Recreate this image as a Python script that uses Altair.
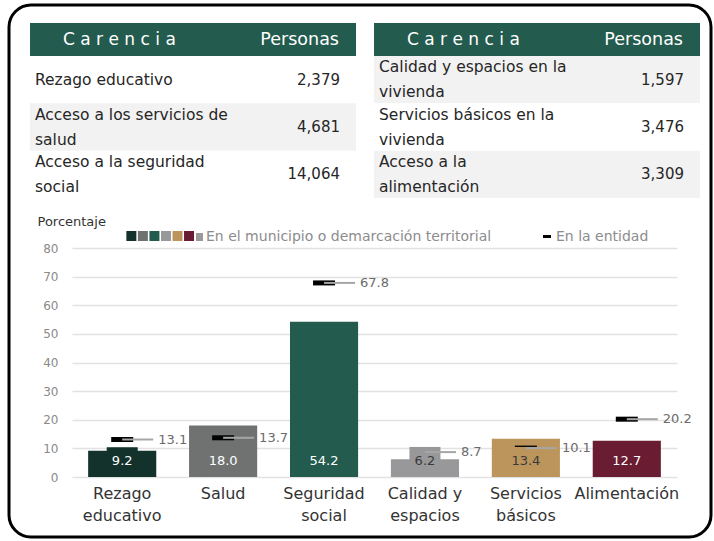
import altair as alt
import pandas as pd

# ---------------- data ----------------
categories = ["Rezago\neducativo", "Salud", "Seguridad\nsocial",
              "Calidad y\nespacios", "Servicios\nbásicos", "Alimentación"]
municipio = [9.2, 18.0, 54.2, 6.2, 13.4, 12.7]
entidad = [13.1, 13.7, 67.8, 8.7, 10.1, 20.2]
secundaria = [10.4, 10.5, 10.5, 10.5, 10.5, 10.5]
bar_colors = ["#13322B", "#6F7271", "#235B4E", "#98989A", "#BC955C", "#691C32"]

left_items = ["Rezago educativo", "Acceso a los servicios de\nsalud",
              "Acceso a la seguridad\nsocial"]
left_people = [2379, 4681, 14064]
right_items = ["Calidad y espacios en la\nvivienda", "Servicios básicos en la\nvivienda",
               "Acceso a la\nalimentación"]
right_people = [1597, 3476, 3309]
header_left = ["C a r e n c i a", "C a r e n c i a"]
header_right = ["Personas", "Personas"]

legend_mun = "En el municipio o demarcación territorial"
legend_ent = "En la entidad"
y_title = "Porcentaje"
y_ticks = [0, 10, 20, 30, 40, 50, 60, 70, 80]

FONT = "DejaVu Sans"

# ---------------- bar chart ----------------
df = pd.DataFrame({"cat": categories, "mun": municipio, "ent": entidad, "sec": secundaria})

xenc = alt.X("cat:N", sort=categories,
             scale=alt.Scale(paddingInner=0.325, paddingOuter=0.16),
             axis=alt.Axis(title=None, labelExpr="split(datum.label, '\\n')",
                           labelAngle=0, labelFontSize=16, labelColor="#333333",
                           labelLineHeight=22, labelPadding=8, labelBaseline="top",
                           domain=False, ticks=False, grid=False))
cenc = alt.Color("cat:N", sort=categories,
                 scale=alt.Scale(domain=categories, range=bar_colors), legend=None)

yscale = alt.Scale(domain=[0, 80], nice=False)
yaxis = alt.Axis(values=y_ticks, title=y_title, titleAngle=0,
                 titleX=-35, titleY=-27, titleAlign="left",
                 titleBaseline="middle", titleFontSize=13,
                 titleFontWeight="normal", titleColor="#333333",
                 labelFontSize=12, labelColor="#8A8A8A", labelPadding=14,
                 labelOverlap=False, domain=False, ticks=False,
                 gridColor="#E2E2E2", gridWidth=1.5)


def yenc(field):
    return alt.Y(field, type="quantitative", scale=yscale, axis=yaxis)


base = alt.Chart(df).encode(x=xenc)

main_bars = base.mark_bar().encode(y=yenc("mun"), color=cenc)
markers = base.mark_tick(color="black", size=22, thickness=5, opacity=1).encode(y=yenc("ent"))
narrow = base.mark_bar(width=31).encode(y=yenc("sec"), color=cenc)
leaders = base.mark_tick(color="#A6A6A6", size=31, thickness=2, opacity=1,
                         xOffset=15.5).encode(y=yenc("ent"))
value_labels = base.mark_text(fontSize=13, baseline="middle", dy=-16).encode(
    y=alt.YDatum(0, type="quantitative", scale=yscale, axis=yaxis),
    text=alt.Text("mun:Q", format=".1f"),
    color=alt.condition("test(/^(Calidad|Servicios)/, datum.cat)",
                        alt.value("#3A3A3A"), alt.value("#FFFFFF")),
)
ent_labels = base.mark_text(fontSize=13, baseline="middle", align="left", dx=36,
                            color="#6B6B6B").encode(
    y=yenc("ent"), text=alt.Text("ent:Q", format=".1f"))

bars_group = alt.layer(main_bars, markers, narrow, leaders, value_labels, ent_labels)

# ---------------- tables ----------------
tdf = pd.DataFrame({
    "table": [0, 0, 0, 1, 1, 1],
    "row": [0, 1, 2, 0, 1, 2],
    "item": left_items + right_items,
    "people": left_people + right_people,
})
hdf = pd.DataFrame({"table": [0, 1], "h1": header_left, "h2": header_right})


def tx(bp=None):
    kw = {} if bp is None else {"bandPosition": bp}
    return alt.X("table:O", scale=alt.Scale(range=[-42, 628], paddingInner=18 / 344,
                                            paddingOuter=0), axis=None, **kw)


ty = alt.Y("row:O", scale=alt.Scale(range=[-192, -50], paddingInner=0, paddingOuter=0),
           axis=None)

row_bg = alt.Chart(tdf).mark_rect().encode(
    x=tx(), y=ty,
    fill=alt.condition("(datum.table == 0) == (datum.row % 2 == 1)",
                       alt.value("#F2F2F2"), alt.value("#FFFFFF")),
)
head_bg = alt.Chart(hdf).mark_rect(color="#235B4E").encode(
    x=tx(), y=alt.value(-225), y2=alt.value(-192))
head_t1 = alt.Chart(hdf).mark_text(color="white", fontSize=17, align="left",
                                   baseline="middle", dx=33).encode(
    x=tx(0), y=alt.value(-208), text="h1:N")
head_t2 = alt.Chart(hdf).mark_text(color="white", fontSize=17.5, align="right",
                                   baseline="middle", dx=-17).encode(
    x=tx(1), y=alt.value(-208), text="h2:N")
item_one = alt.Chart(tdf).transform_filter(
    "indexof(datum.item, '\\n') < 0"
).mark_text(color="#262626", fontSize=15.5, align="left", baseline="middle", dx=5).encode(
    x=tx(0), y=ty, text="item:N")
item_two = alt.Chart(tdf).transform_filter(
    "indexof(datum.item, '\\n') >= 0"
).mark_text(color="#262626", fontSize=15.5, align="left", baseline="middle", dx=5, dy=-12.5,
            lineBreak="\n", lineHeight=25).encode(
    x=tx(0), y=ty, text="item:N")
people_t = alt.Chart(tdf).mark_text(color="#262626", fontSize=15, align="right",
                                    baseline="middle", dx=-16).encode(
    x=tx(1), y=ty, text=alt.Text("people:Q", format=",d"))

tables = alt.layer(row_bg, head_bg, head_t1, head_t2, item_one, item_two, people_t)

# ---------------- legend ----------------
ldf = pd.DataFrame({"cat": categories})
one = pd.DataFrame({"t": [legend_mun]})
two = pd.DataFrame({"t": [legend_ent]})

leg_gray = alt.Chart(one).mark_rect(color="#9A9A9A").encode(
    x=alt.value(124), x2=alt.value(131), y=alt.value(-15), y2=alt.value(-7))
leg_sq = alt.Chart(ldf).mark_square(size=100, opacity=1).encode(
    x=alt.X("cat:N", sort=categories, scale=alt.Scale(type="point", range=[53.6, 122.8]),
            axis=None),
    y=alt.value(-12), color=cenc)
leg_t1 = alt.Chart(one).mark_text(align="left", baseline="middle", fontSize=14,
                                  color="#8C8C8C").encode(
    x=alt.value(134), y=alt.value(-11), text="t:N")
leg_dash = alt.Chart(two).mark_rect(color="black").encode(
    x=alt.value(471), x2=alt.value(479), y=alt.value(-13), y2=alt.value(-10))
leg_t2 = alt.Chart(two).mark_text(align="left", baseline="middle", fontSize=14,
                                  color="#8C8C8C").encode(
    x=alt.value(484), y=alt.value(-11), text="t:N")

border = alt.Chart(one).mark_rect(fill="transparent", stroke="black", strokeWidth=3,
                                  cornerRadius=22).encode(
    x=alt.value(-63), x2=alt.value(639), y=alt.value(-243), y2=alt.value(289))

chart = alt.layer(
    bars_group, tables, leg_gray, leg_sq, leg_t1, leg_dash, leg_t2, border
).resolve_scale(
    x="independent", y="independent"
).properties(
    width=605, height=229,
    padding={"left": 72, "top": 248, "right": 37, "bottom": 64},
    autosize="none",
    background="white",
).configure(
    font=FONT,
).configure_view(stroke=None)

chart.save("out.html", embed_options={"renderer": "svg", "actions": False})
